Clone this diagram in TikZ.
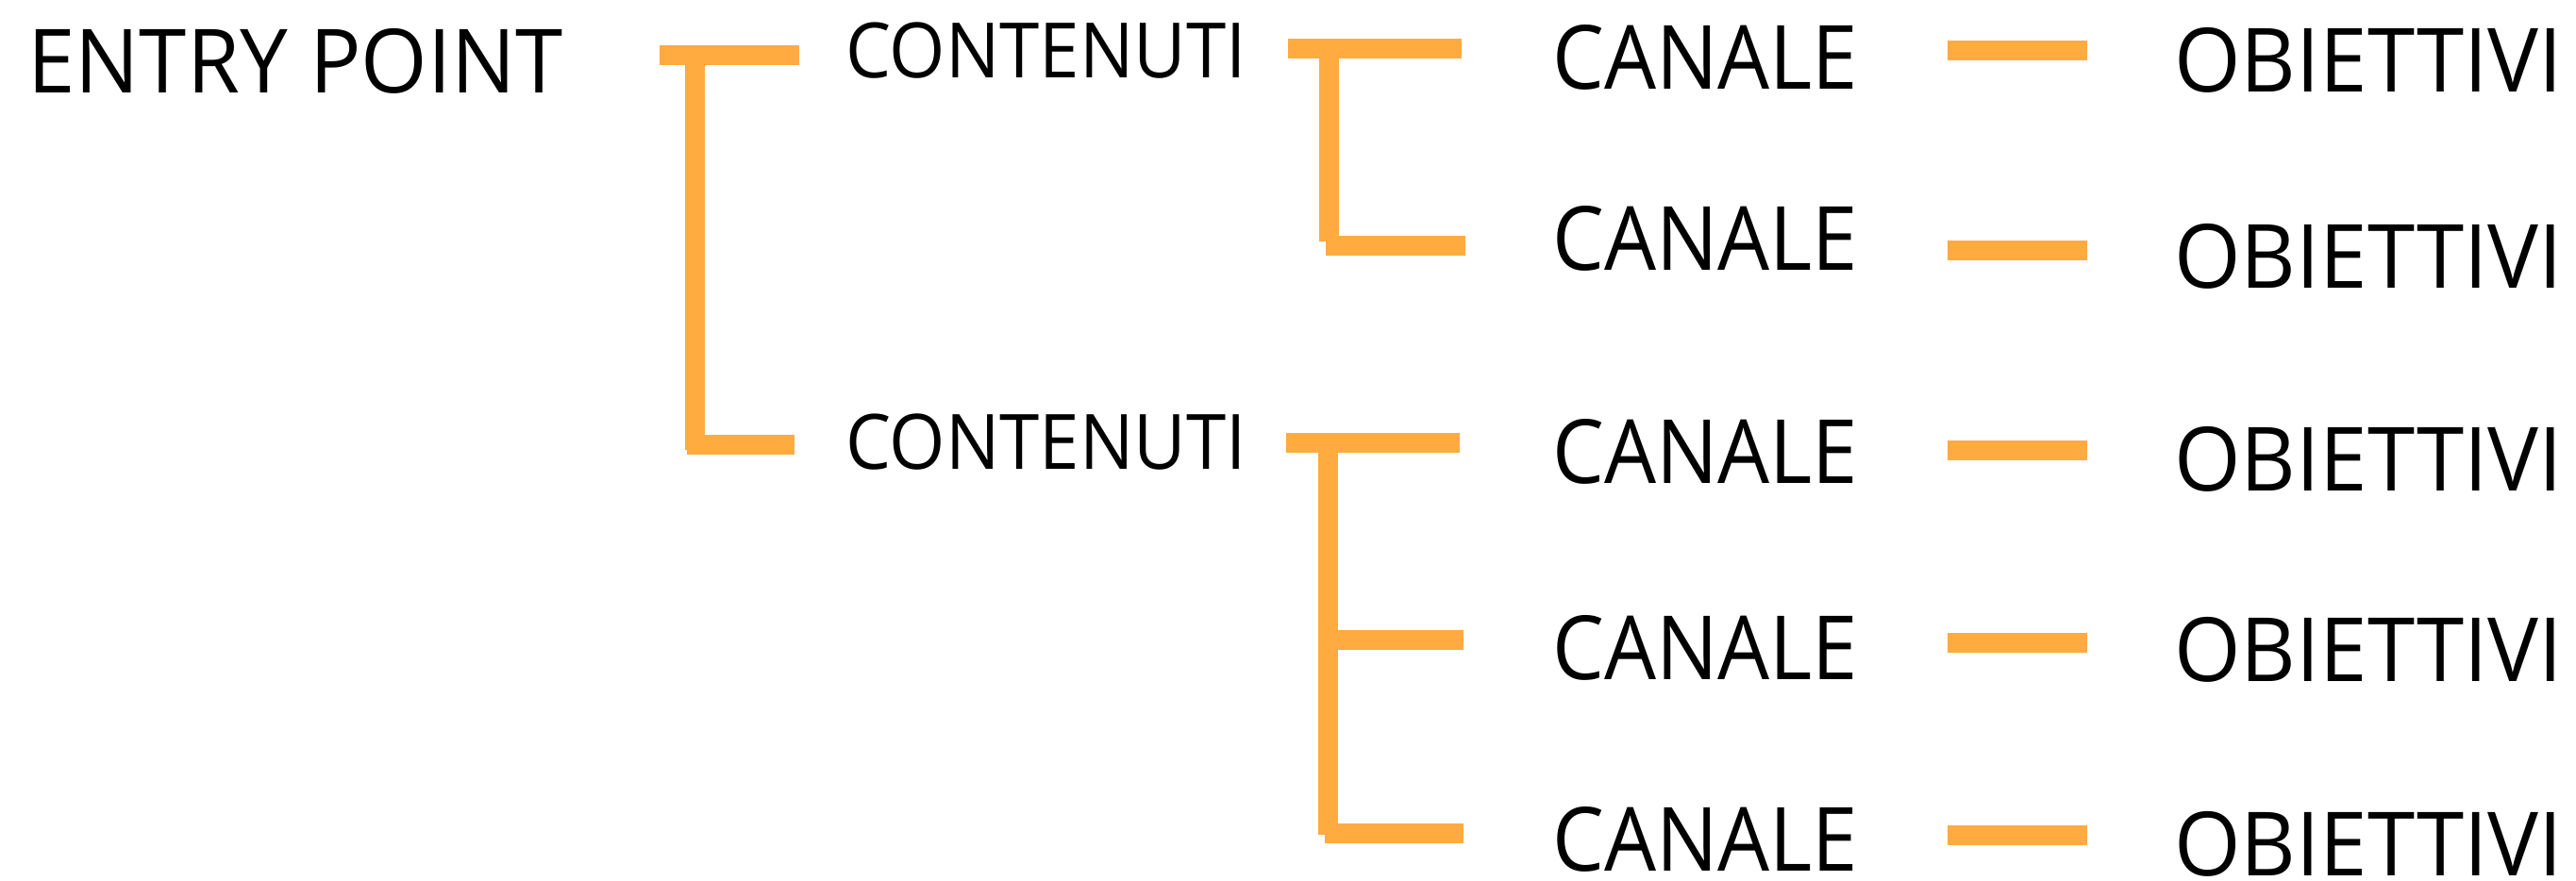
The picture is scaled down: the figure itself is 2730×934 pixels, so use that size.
\documentclass[tikz,border=0pt]{standalone}
\usepackage{graphicx}
\usepackage{fontspec}
\setmainfont{Open Sans}
\definecolor{brk}{HTML}{FFAB40}
\newcommand{\hsq}[2]{\scalebox{#1}[1]{#2}}
\begin{document}
\begin{tikzpicture}[x=1pt,y=-1pt,
  txt/.style={inner sep=0pt, anchor=base west, text=black, text depth=0pt},
  big/.style={txt, font=\fontsize{94}{100}\selectfont},
  mid/.style={txt, font=\fontsize{81}{90}\selectfont},
  bar/.style={draw=brk, line width=21pt}]
\useasboundingbox[fill=white] (0,0) rectangle (2730,934);
% text nodes
\node[big] (ep) at (29,99) {\hsq{0.964}{ENTRY POINT}};
\node[mid] (c1) at (896,82) {\hsq{0.941}{CONTENUTI}};
\node[mid] (c2) at (896,497) {\hsq{0.941}{CONTENUTI}};
\foreach \i/\yk/\yo in {1/94/97, 2/286/305, 3/512/520, 4/720/722, 5/923/928}{
  \node[big] (k\i) at (1645,\yk) {\hsq{0.925}{CANALE}};
  \node[big] (o\i) at (2304,\yo) {\hsq{0.964}{OBIETTIVI}};
}
% bracket 1 : entry point -> contenuti
\coordinate (a1) at (699,58.5);  \coordinate (a2) at (847,58.5);
\coordinate (a3) at (736,58.5);  \coordinate (a4) at (736,477);
\coordinate (a5) at (728,471.5); \coordinate (a6) at (842,471.5);
\draw[bar] (a1) -- (a2);
\draw[bar] (a3) -- (a4);
\draw[bar] (a5) -- (a6);
% bracket 2 : contenuti 1 -> canali 1-2
\coordinate (b1) at (1365,51.5); \coordinate (b2) at (1549,51.5);
\coordinate (b3) at (1408,51.5); \coordinate (b4) at (1408,256);
\coordinate (b5) at (1405,260);  \coordinate (b6) at (1553,260);
\draw[bar] (b1) -- (b2);
\draw[bar] (b3) -- (b4);
\draw[bar] (b5) -- (b6);
% bracket 3 : contenuti 2 -> canali 3-5
\coordinate (d1) at (1363,469.5); \coordinate (d2) at (1547,469.5);
\coordinate (d3) at (1407,469.5); \coordinate (d4) at (1407,885);
\coordinate (d5) at (1407,678.5); \coordinate (d6) at (1551,678.5);
\coordinate (d7) at (1404,883);   \coordinate (d8) at (1551,883);
\draw[bar] (d1) -- (d2);
\draw[bar] (d3) -- (d4);
\draw[bar] (d5) -- (d6);
\draw[bar] (d7) -- (d8);
% canale -> obiettivi dashes
\foreach \i/\y in {1/53.5, 2/265.5, 3/477, 4/681, 5/885.5}{
  \coordinate (s\i) at (2064,\y);
  \coordinate (e\i) at (2212,\y);
  \draw[bar] (s\i) -- (e\i);
}
\end{tikzpicture}
\end{document}
